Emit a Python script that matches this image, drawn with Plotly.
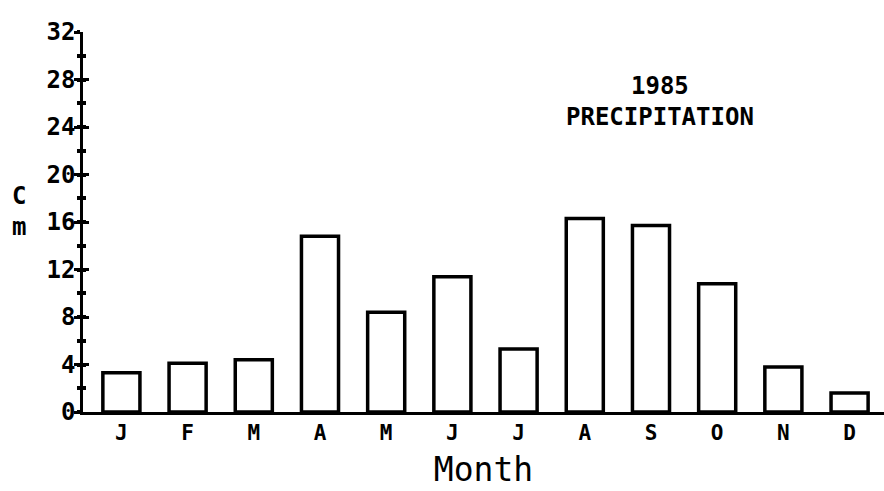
import plotly.graph_objects as go

# 1985 monthly precipitation (cm)
months = ["J", "F", "M", "A", "M", "J", "J", "A", "S", "O", "N", "D"]
precip_cm = [3.3, 4.1, 4.4, 14.8, 8.4, 11.4, 5.3, 16.3, 15.7, 10.8, 3.8, 1.6]
y_ticks = [0, 4, 8, 12, 16, 20, 24, 28, 32]

positions = list(range(len(months)))
mono = "DejaVu Sans Mono"

fig = go.Figure()
fig.add_trace(go.Bar(
    x=positions,
    y=precip_cm,
    width=0.56,
    marker=dict(color="white", line=dict(color="black", width=3.5)),
    hoverinfo="skip",
    showlegend=False,
))
# invisible trace so the mirrored tick axis is drawn
fig.add_trace(go.Scatter(x=[0], y=[0], yaxis="y2", mode="markers",
                         marker=dict(opacity=0), showlegend=False, hoverinfo="skip"))

axis_common = dict(range=[0, 32], tickvals=y_ticks, showgrid=False, zeroline=False)


def label(text, x, y):
    return dict(text=text, xref="paper", yref="paper", x=x, y=y,
                xanchor="center", yanchor="middle", showarrow=False,
                font=dict(family=mono, size=24, weight="bold"))


fig.update_layout(
    width=884, height=491,
    margin=dict(l=83, r=0, t=32, b=79),
    paper_bgcolor="white", plot_bgcolor="white",
    font=dict(family=mono, color="black"),
    xaxis=dict(
        range=[-0.58, 11.52],
        tickvals=positions, ticktext=months,
        tickfont=dict(family=mono, size=21, weight="bold"),
        showline=True, linecolor="black", linewidth=2.5,
        ticks="", showgrid=False, zeroline=False,
        title=dict(text="Month", font=dict(family=mono, size=33), standoff=14),
    ),
    yaxis=dict(
        **axis_common,
        ticktext=[str(v) for v in y_ticks],
        tickfont=dict(family=mono, size=24, weight="bold"),
        showline=True, linecolor="black", linewidth=2.5,
        ticks="outside", ticklen=6, tickwidth=2.5, tickcolor="black",
        minor=dict(dtick=2, ticks="outside", ticklen=3, tickwidth=4, tickcolor="black"),
        ticklabelstandoff=-6,
    ),
    yaxis2=dict(
        **axis_common,
        overlaying="y", side="left",
        showticklabels=False, showline=False,
        ticks="inside", ticklen=6, tickwidth=2.5, tickcolor="black",
        minor=dict(dtick=2, ticks="inside", ticklen=3, tickwidth=4, tickcolor="black"),
    ),
    annotations=[
        label("1985<br>PRECIPITATION", 0.7203, 0.817),
        label("C<br>m", -0.0799, 0.528),
    ],
)

fig.write_html("out.html")
